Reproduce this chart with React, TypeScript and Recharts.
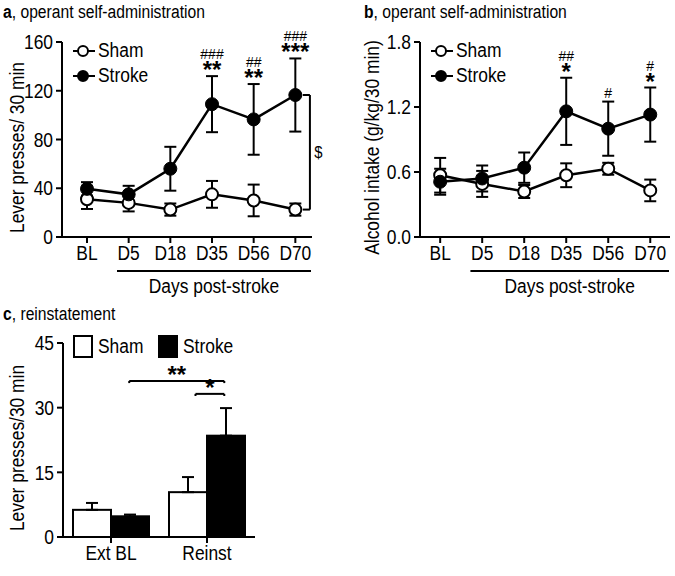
import React from "react";
import {
  LineChart,
  Line,
  XAxis,
  YAxis,
  ErrorBar,
  ReferenceDot,
  ReferenceLine,
  BarChart,
  Bar,
} from "recharts";

// Liberation Sans squeezed sideways stands in for the narrow sans of the figure
const FONT = "'Liberation Sans', Arial, sans-serif";
const SQUEEZE = 0.87;

// days on the x axis of panels a and b
const days = ["BL", "D5", "D18", "D35", "D56", "D70"];

// panel a: lever presses / 30 min
const pressSham = [31, 28, 22.5, 35, 30, 22.5];
const pressShamErr = [8, 7, 5, 11, 13, 5];
const pressStroke = [39.5, 35, 56, 109, 96.5, 116.5];
const pressStrokeErr = [5.5, 7, 18, 23, 29, 30];
const pressHash = ["", "", "", "###", "##", "###"];
const pressStar = ["", "", "", "**", "**", "***"];
const pressTicks = [0, 40, 80, 120, 160];

// panel b: alcohol intake (g/kg/30 min)
const intakeSham = [0.57, 0.49, 0.42, 0.57, 0.63, 0.43];
const intakeShamErr = [0.16, 0.12, 0.06, 0.11, 0.055, 0.1];
const intakeStroke = [0.51, 0.54, 0.64, 1.16, 1.0, 1.13];
const intakeStrokeErr = [0.12, 0.12, 0.14, 0.31, 0.25, 0.25];
const intakeHash = ["", "", "", "##", "#", "#"];
const intakeStar = ["", "", "", "*", "", "*"];
const intakeTicks = [0, 0.6, 1.2, 1.8];

// panel c: reinstatement
const phases = ["Ext BL", "Reinst"];
const reinSham = [6.3, 10.4];
const reinShamErr = [1.6, 3.5];
const reinStroke = [4.8, 23.5];
const reinStrokeErr = [0.4, 6.4];
const reinTicks = [0, 15, 30, 45];
// significance brackets: [from, to, level, label], x on the 0..2 phase scale
const reinBrackets: [number, number, number, string][] = [
  [0.69, 1.68, 36.2, "**"],
  [1.38, 1.68, 33.2, "*"],
];

const axisLine = { stroke: "#000", strokeWidth: 2 };

const NText = ({ x, y, anchor = "middle", size = 20, rotate = 0, dy, children }: any) => (
  <text
    transform={`translate(${x} ${y})${rotate ? ` rotate(${rotate})` : ""} scale(${SQUEEZE} 1)`}
    textAnchor={anchor}
    dy={dy}
    fontSize={size}
    fontFamily={FONT}
    fill="#000"
  >
    {children}
  </text>
);

const makeTick = (fmt: (v: number) => string, vertical: boolean) => (props: any) => (
  <NText
    x={props.x}
    y={props.y}
    anchor={props.textAnchor}
    dy={vertical ? "0.36em" : "0.72em"}
  >
    {fmt(props.payload.value)}
  </NText>
);

const YTitle = ({ viewBox, value, dx }: any) => (
  <NText x={viewBox.x + dx} y={viewBox.y + viewBox.height / 2 + 8} rotate={-90} dy="0.36em">
    {value}
  </NText>
);

const DaysLabel = ({ viewBox, domain }: any) => {
  const sx = (v: number) =>
    viewBox.x + ((v - domain[0]) / (domain[1] - domain[0])) * viewBox.width;
  const x1 = sx(0.72);
  const x2 = sx(domain[1]) - 1;
  return (
    <g>
      <line x1={x1} x2={x2} y1={viewBox.y + 34} y2={viewBox.y + 34} stroke="#000" strokeWidth={2} />
      <NText x={(x1 + x2) / 2} y={viewBox.y + 56}>
        Days post-stroke
      </NText>
    </g>
  );
};

const Squeezed = ({ children, style }: any) => (
  <span
    style={{
      display: "inline-block",
      transform: `scaleX(${SQUEEZE})`,
      transformOrigin: "left center",
      whiteSpace: "nowrap",
      ...style,
    }}
  >
    {children}
  </span>
);

const LineLegend = ({ left }: { left: number }) => (
  <div style={{ position: "absolute", left, top: 38, fontFamily: FONT, fontSize: 20, lineHeight: "25px" }}>
    {[
      { name: "Sham", fill: "#fff" },
      { name: "Stroke", fill: "#000" },
    ].map((e) => (
      <div key={e.name} style={{ display: "flex", alignItems: "center", height: 25 }}>
        <svg width={24} height={14} style={{ marginRight: 2 }}>
          <line x1={1} x2={23} y1={7} y2={7} stroke="#000" strokeWidth={2} />
          <circle cx={11} cy={7} r={5} fill={e.fill} stroke="#000" strokeWidth={2} />
        </svg>
        <Squeezed>{e.name}</Squeezed>
      </div>
    ))}
  </div>
);

const Title = ({ letter, text, left, top }: any) => (
  <div style={{ position: "absolute", left, top, fontFamily: FONT, fontSize: 18 }}>
    <Squeezed>
      <b>{letter}</b>, {text}
    </Squeezed>
  </div>
);

// hashes (vs. baseline) stacked over stars (vs. sham) above the error bar cap
const Marks = ({ cx, cy, hash, star }: any) => (
  <text fontFamily={FONT} fill="#000" textAnchor="middle">
    {hash && (
      <tspan x={cx} y={star ? cy - 17 : cy - 4} fontSize={14}>
        {hash}
      </tspan>
    )}
    {star && (
      <tspan x={cx} y={cy + 2} fontSize={24} fontWeight="bold">
        {star}
      </tspan>
    )}
  </text>
);

interface LinePanelProps {
  sham: number[];
  shamErr: number[];
  stroke: number[];
  strokeErr: number[];
  hash: string[];
  star: string[];
  ticks: number[];
  xDomain: [number, number];
  yLabel: string;
  fmt: (v: number) => string;
  marginRight: number;
  yWidth: number;
  yLabelDx: number;
  bracket?: boolean;
}

const LinePanel = (p: LinePanelProps) => {
  const data = days.map((day, i) => ({
    x: i,
    day,
    sham: p.sham[i],
    shamErr: p.shamErr[i],
    stroke: p.stroke[i],
    strokeErr: p.strokeErr[i],
    top: p.stroke[i] + p.strokeErr[i],
    hash: p.hash[i],
    star: p.star[i],
  }));
  const yMax = p.ticks[p.ticks.length - 1];
  const last = data[data.length - 1];
  return (
    <LineChart
      width={p.yWidth + 250 + p.marginRight}
      height={300}
      data={data}
      margin={{ top: 42, right: p.marginRight, bottom: 0, left: 0 }}
    >
      <XAxis
        type="number"
        dataKey="x"
        domain={p.xDomain}
        ticks={data.map((d) => d.x)}
        tick={makeTick((v) => days[v], false)}
        axisLine={axisLine}
        tickLine={axisLine}
        tickSize={6}
        tickMargin={3}
        height={63}
        allowDataOverflow
        label={(props: any) => <DaysLabel {...props} domain={p.xDomain} />}
      />
      <YAxis
        type="number"
        domain={[0, yMax]}
        ticks={p.ticks}
        tick={makeTick(p.fmt, true)}
        axisLine={axisLine}
        tickLine={axisLine}
        tickSize={6}
        tickMargin={3}
        width={p.yWidth}
        label={(props: any) => <YTitle {...props} value={p.yLabel} dx={p.yLabelDx} />}
      />
      <Line
        dataKey="sham"
        stroke="#000"
        strokeWidth={2.5}
        dot={{ r: 6, fill: "#fff", stroke: "#000", strokeWidth: 2 }}
        isAnimationActive={false}
      >
        <ErrorBar dataKey="shamErr" width={6} stroke="#000" strokeWidth={2} />
      </Line>
      <Line
        dataKey="stroke"
        stroke="#000"
        strokeWidth={2.5}
        dot={{ r: 6.5, fill: "#000", stroke: "#000", strokeWidth: 1 }}
        isAnimationActive={false}
      >
        <ErrorBar dataKey="strokeErr" width={6} stroke="#000" strokeWidth={2} />
      </Line>
      {data
        .filter((d) => d.hash || d.star)
        .map((d) => (
          <ReferenceDot
            key={d.day}
            x={d.x}
            y={d.top}
            r={0}
            ifOverflow="visible"
            shape={(s: any) => <Marks cx={s.cx} cy={s.cy} hash={d.hash} star={d.star} />}
          />
        ))}
      {p.bracket && (
        <>
          <ReferenceLine
            segment={[{ x: 5.35, y: last.stroke }, { x: 5.35, y: last.sham }]}
            stroke="#000"
            strokeWidth={2}
            ifOverflow="visible"
          />
          <ReferenceLine
            segment={[{ x: 5.18, y: last.stroke }, { x: 5.35, y: last.stroke }]}
            stroke="#000"
            strokeWidth={2}
            ifOverflow="visible"
          />
          <ReferenceLine
            segment={[{ x: 5.18, y: last.sham }, { x: 5.35, y: last.sham }]}
            stroke="#000"
            strokeWidth={2}
            ifOverflow="visible"
          />
          <ReferenceDot
            x={5.55}
            y={(last.stroke + last.sham) / 2}
            r={0}
            ifOverflow="visible"
            shape={(s: any) => (
              <NText x={s.cx} y={s.cy + 6} size={17}>
                $
              </NText>
            )}
          />
        </>
      )}
    </LineChart>
  );
};

const BarShape = (fill: string) => (props: any) => (
  <rect
    x={props.x}
    y={props.y}
    width={props.width}
    height={props.height}
    fill={fill}
    stroke="#000"
    strokeWidth={2}
  />
);

const ReinPanel = () => {
  const data = phases.map((phase, i) => ({
    x: i + 0.5,
    phase,
    sham: reinSham[i],
    shamErr: [0, reinShamErr[i]],
    stroke: reinStroke[i],
    strokeErr: [0, reinStrokeErr[i]],
  }));
  return (
    <BarChart
      width={340}
      height={276}
      data={data}
      margin={{ top: 43, right: 85, bottom: 0, left: 0 }}
      barGap={0}
      barSize={38}
    >
      <XAxis
        type="number"
        dataKey="x"
        domain={[0, 2]}
        ticks={data.map((d) => d.x)}
        tick={makeTick((v) => phases[Math.floor(v)], false)}
        axisLine={axisLine}
        tickLine={axisLine}
        tickSize={6}
        tickMargin={3}
        height={39}
        allowDataOverflow
      />
      <YAxis
        domain={[0, 45]}
        ticks={reinTicks}
        tick={makeTick((v) => String(v), true)}
        axisLine={axisLine}
        tickLine={axisLine}
        tickSize={6}
        tickMargin={3}
        width={63}
        label={(props: any) => <YTitle {...props} value="Lever presses/30 min" dx={17} />}
      />
      <Bar dataKey="sham" shape={BarShape("#fff")} isAnimationActive={false}>
        <ErrorBar dataKey="shamErr" width={6} stroke="#000" strokeWidth={2} direction="y" />
      </Bar>
      <Bar dataKey="stroke" shape={BarShape("#000")} isAnimationActive={false}>
        <ErrorBar dataKey="strokeErr" width={6} stroke="#000" strokeWidth={2} direction="y" />
      </Bar>
      {reinBrackets.map(([a, b, lvl, lab]) => (
        <React.Fragment key={lab}>
          <ReferenceLine segment={[{ x: a, y: lvl }, { x: b, y: lvl }]} stroke="#000" strokeWidth={2} ifOverflow="visible" />
          <ReferenceLine segment={[{ x: a, y: lvl }, { x: a, y: lvl - 0.5 }]} stroke="#000" strokeWidth={2} ifOverflow="visible" />
          <ReferenceLine segment={[{ x: b, y: lvl }, { x: b, y: lvl - 0.5 }]} stroke="#000" strokeWidth={2} ifOverflow="visible" />
          <ReferenceDot
            x={(a + b) / 2}
            y={lvl}
            r={0}
            ifOverflow="visible"
            shape={(s: any) => (
              <text x={s.cx} y={s.cy + 2} textAnchor="middle" fontFamily={FONT} fontSize={24} fontWeight="bold">
                {lab}
              </text>
            )}
          />
        </React.Fragment>
      ))}
    </BarChart>
  );
};

const BarLegend = () => (
  <div style={{ position: "absolute", left: 73, top: 335, display: "flex", alignItems: "center", fontFamily: FONT, fontSize: 20 }}>
    <div style={{ width: 16, height: 19, border: "2px solid #000", background: "#fff", marginRight: 5 }} />
    <div style={{ width: 60 }}>
      <Squeezed>Sham</Squeezed>
    </div>
    <div style={{ width: 16, height: 19, border: "2px solid #000", background: "#000", marginRight: 5 }} />
    <Squeezed>Stroke</Squeezed>
  </div>
);

export default function App() {
  return (
    <div style={{ position: "absolute", left: 0, top: 0, width: 675, height: 576, background: "#fff" }}>
      <Title letter="a" text="operant self-administration" left={3} top={2} />
      <Title letter="b" text="operant self-administration" left={364} top={2} />
      <Title letter="c" text="reinstatement" left={3} top={304} />
      <div style={{ position: "absolute", left: 0, top: 0 }}>
        <LinePanel
          sham={pressSham}
          shamErr={pressShamErr}
          stroke={pressStroke}
          strokeErr={pressStrokeErr}
          hash={pressHash}
          star={pressStar}
          ticks={pressTicks}
          xDomain={[-0.6, 5.4]}
          yLabel="Lever presses/ 30 min"
          fmt={(v) => String(v)}
          marginRight={28}
          yWidth={62}
          yLabelDx={17}
          bracket
        />
      </div>
      <div style={{ position: "absolute", left: 340, top: 0 }}>
        <LinePanel
          sham={intakeSham}
          shamErr={intakeShamErr}
          stroke={intakeStroke}
          strokeErr={intakeStrokeErr}
          hash={intakeHash}
          star={intakeStar}
          ticks={intakeTicks}
          xDomain={[-0.48, 5.47]}
          yLabel="Alcohol intake (g/kg/30 min)"
          fmt={(v) => v.toFixed(1)}
          marginRight={5}
          yWidth={80}
          yLabelDx={32}
        />
      </div>
      <div style={{ position: "absolute", left: 0, top: 300 }}>
        <ReinPanel />
      </div>
      <LineLegend left={72} />
      <LineLegend left={430} />
      <BarLegend />
    </div>
  );
}
